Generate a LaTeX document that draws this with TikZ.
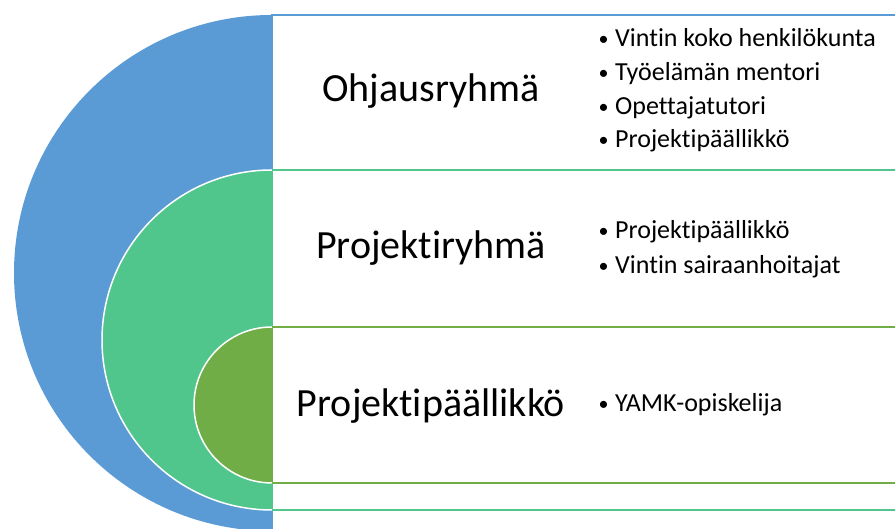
\documentclass[tikz,border=0pt]{standalone}
\usepackage{fontspec}
\setmainfont{Carlito}[Ligatures=NoCommon]
\definecolor{ringblue}{HTML}{5B9BD5}
\definecolor{ringgreen}{HTML}{50C58C}
\definecolor{ringolive}{HTML}{70AD47}
\newcommand{\kohtamerkki}[1]{\makebox[18pt][l]{\hspace{1.5pt}\raisebox{1.5pt}{\fontsize{20}{20}\selectfont\textbullet}}#1}

\begin{document}
\begin{tikzpicture}[x=1pt,y=1pt,
    kehys/.style={fill=white, line width=2pt},
    reuna/.style={white, line width=1.5pt},
    otsikko/.style={anchor=base, inner sep=0pt, font=\fontsize{40}{48}\selectfont},
    kohta/.style={anchor=base west, inner sep=0pt, font=\fontsize{26}{31}\selectfont}
    ]
    \useasboundingbox (0,0) rectangle (895,529);
    \clip (0,0) rectangle (895,529);

    % uloin: ohjausryhma
    \draw [kehys, draw=ringblue] (272,-20) rectangle (920,514);
    \fill [ringblue] (272,514) arc[start angle=90, end angle=270, radius=258] -- cycle;

    % keski: projektiryhma
    \draw [kehys, draw=ringgreen] (272,19) rectangle (920,359);
    \fill [ringgreen] (272,359) arc[start angle=90, end angle=270, radius=170] -- cycle;
    \draw [reuna] (272,359) arc[start angle=90, end angle=270, radius=170];

    % sisin: projektipaallikko
    \draw [kehys, draw=ringolive] (272,46) rectangle (920,202);
    \fill [ringolive] (272,202) arc[start angle=90, end angle=270, radius=78] -- cycle;
    \draw [reuna] (272,202) arc[start angle=90, end angle=270, radius=78];

    \node [otsikko] (ohjaus) at (431,427) {Ohjausryhmä};
    \node [otsikko] (ryhma)  at (431,270) {Projektiryhmä};
    \node [otsikko] (pp)     at (431,112) {Projektipäällikkö};

    \node [kohta] (ohjaus1) at (597,482) {\kohtamerkki{Vintin koko henkilökunta}};
    \node [kohta] (ohjaus2) at (597,448) {\kohtamerkki{Työelämän mentori}};
    \node [kohta] (ohjaus3) at (597,414) {\kohtamerkki{Opettajatutori}};
    \node [kohta] (ohjaus4) at (597,381) {\kohtamerkki{Projektipäällikkö}};

    \node [kohta] (ryhma1) at (597,290) {\kohtamerkki{Projektipäällikkö}};
    \node [kohta] (ryhma2) at (597,255) {\kohtamerkki{Vintin sairaanhoitajat}};

    \node [kohta] (pp1) at (597,117) {\kohtamerkki{YAMK-opiskelija}};
\end{tikzpicture}
\end{document}
